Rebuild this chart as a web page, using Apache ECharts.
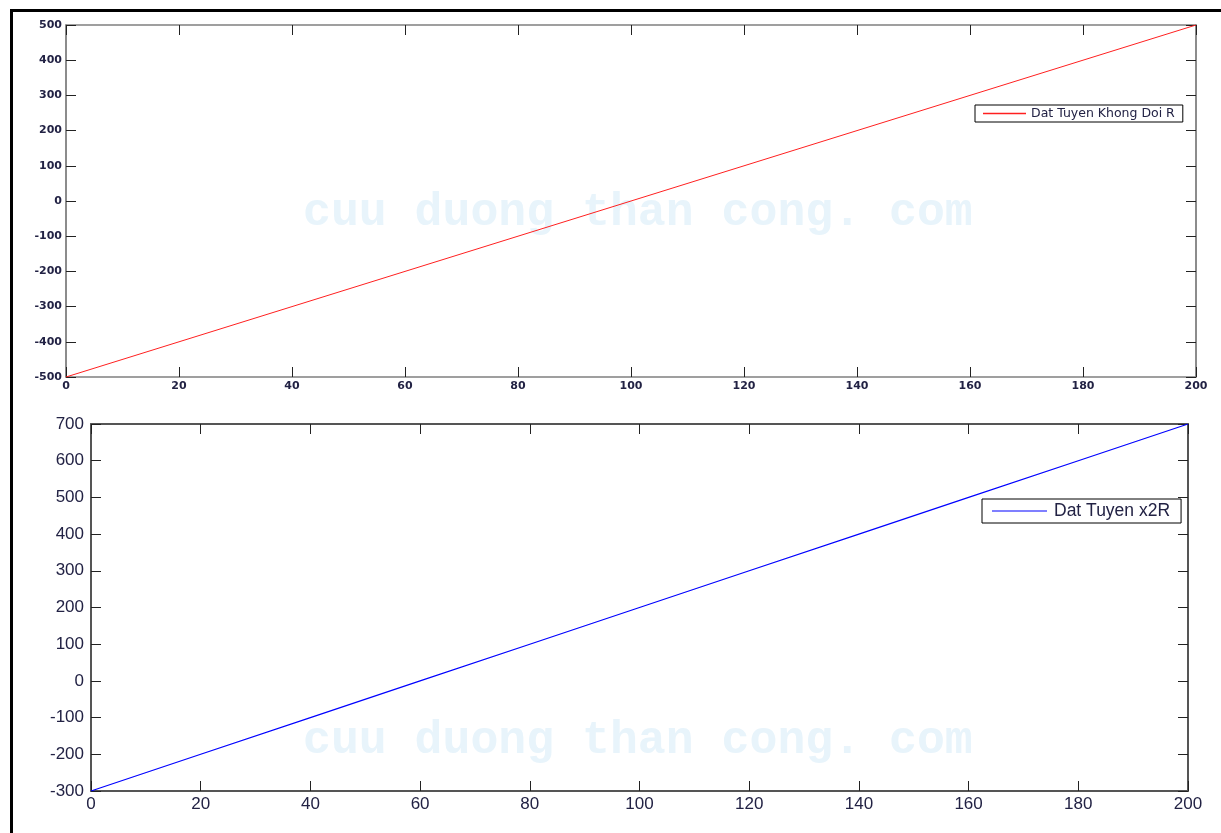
<!DOCTYPE html>
<html>
<head>
<meta charset="utf-8">
<title>Dat Tuyen</title>
<script src="https://cdn.jsdelivr.net/npm/echarts@6/dist/echarts.min.js"></script>
<style>
  html, body { margin: 0; padding: 0; background: #ffffff; }
  #chart { width: 1221px; height: 833px; }
</style>
</head>
<body>
<div id="chart"></div>
<script>
// Sample positions along the horizontal axis
const xValues = [0, 20, 40, 60, 80, 100, 120, 140, 160, 180, 200];
// Upper panel: constant R
const seriesKhongDoi = [-500, -400, -300, -200, -100, 0, 100, 200, 300, 400, 500];
// Lower panel: doubled R
const seriesX2R = [-300, -200, -100, 0, 100, 200, 300, 400, 500, 600, 700];

const nameTop = 'Dat Tuyen Khong Doi R';
const nameBottom = 'Dat Tuyen x2R';
const watermark = 'cuu duong than cong. com';

const labelColor = '#222244';

const pairs = (xs, ys) => xs.map((x, i) => [x, ys[i]]);

function axisStyle(lineColor, lineWidth, font) {
  return {
    axisLine: { show: true, onZero: false, lineStyle: { color: lineColor, width: lineWidth } },
    axisTick: { show: true, inside: true, length: 10, lineStyle: { color: '#222', width: 1 } },
    axisLabel: Object.assign({ color: labelColor }, font),
    splitLine: { show: false }
  };
}
function xAxisFor(grid, position, showLabel, lineColor, lineWidth, font) {
  const a = Object.assign({
    type: 'value', gridIndex: grid, position: position,
    min: 0, max: 200, interval: 20
  }, axisStyle(lineColor, lineWidth, font));
  a.axisLabel.show = showLabel;
  return a;
}
function yAxisFor(grid, position, showLabel, min, max, lineColor, lineWidth, font) {
  const a = Object.assign({
    type: 'value', gridIndex: grid, position: position,
    min: min, max: max, interval: 100
  }, axisStyle(lineColor, lineWidth, font));
  a.axisLabel.show = showLabel;
  return a;
}

const fontTopX = { fontFamily: 'DejaVu Sans', fontSize: 11, fontWeight: 'bold', margin: 4 };
const fontTopY = { fontFamily: 'DejaVu Sans', fontSize: 11, fontWeight: 'bold', margin: 4 };
const fontBotX = { fontFamily: 'Liberation Sans', fontSize: 17, margin: 5 };
const fontBotY = { fontFamily: 'Liberation Sans', fontSize: 17, margin: 7 };

const chart = echarts.init(document.getElementById('chart'), null, { renderer: 'canvas' });

chart.setOption({
  backgroundColor: '#ffffff',
  animation: false,
  grid: [
    { left: 66, right: 25, top: 25, height: 352 },
    { left: 91, right: 33, top: 424, height: 367 }
  ],
  xAxis: [
    xAxisFor(0, 'bottom', true, '#808080', 1.5, fontTopX),
    xAxisFor(0, 'top', false, '#808080', 1.5, fontTopX),
    xAxisFor(1, 'bottom', true, '#555555', 2, fontBotX),
    xAxisFor(1, 'top', false, '#555555', 2, fontBotX)
  ],
  yAxis: [
    yAxisFor(0, 'left', true, -500, 500, '#666666', 1.5, fontTopY),
    yAxisFor(0, 'right', false, -500, 500, '#666666', 1.5, fontTopY),
    yAxisFor(1, 'left', true, -300, 700, '#555555', 2, fontBotY),
    yAxisFor(1, 'right', false, -300, 700, '#555555', 2, fontBotY)
  ],
  legend: [
    {
      data: [{ name: nameTop, icon: 'rect' }],
      left: 975, top: 105,
      itemWidth: 43, itemHeight: 1.5, itemGap: 0,
      padding: [2, 8, 2, 8],
      borderColor: '#000', borderWidth: 1, backgroundColor: '#ffffff',
      selectedMode: false,
      textStyle: { color: labelColor, fontFamily: 'DejaVu Sans', fontSize: 12.5, lineHeight: 12 }
    },
    {
      data: [{ name: nameBottom, icon: 'rect' }],
      left: 982, top: 499,
      itemWidth: 55, itemHeight: 1, itemGap: 0,
      padding: [3, 11, 3, 10],
      borderColor: '#000', borderWidth: 1, backgroundColor: '#ffffff',
      selectedMode: false,
      textStyle: { color: labelColor, fontFamily: 'Liberation Sans', fontSize: 17.5, lineHeight: 17, padding: [0, 0, 0, 2] }
    }
  ],
  graphic: [
    // watermark text behind each panel
    { type: 'text', left: 303, top: 190, z: 0, silent: true,
      style: { text: watermark, fill: '#e8f4fb', font: 'bold 46.5px "Liberation Mono"' } },
    { type: 'text', left: 303, top: 718, z: 0, silent: true,
      style: { text: watermark, fill: '#e8f4fb', font: 'bold 46.5px "Liberation Mono"' } },
    // figure frame on the left and top edges
    { type: 'polyline', z: 100, silent: true,
      shape: { points: [[11.5, 833], [11.5, 10.5], [1221, 10.5]] },
      style: { stroke: '#000', lineWidth: 3, fill: null } }
  ],
  series: [
    {
      name: nameTop, type: 'line', xAxisIndex: 0, yAxisIndex: 0,
      data: pairs(xValues, seriesKhongDoi),
      showSymbol: false, symbol: 'none', z: 5,
      lineStyle: { color: '#ff2020', width: 1 }, itemStyle: { color: '#ff2020' }
    },
    {
      name: nameBottom, type: 'line', xAxisIndex: 2, yAxisIndex: 2,
      data: pairs(xValues, seriesX2R),
      showSymbol: false, symbol: 'none', z: 5,
      lineStyle: { color: '#0000ff', width: 1.2 }, itemStyle: { color: '#0000ff' }
    }
  ]
});
</script>
</body>
</html>
